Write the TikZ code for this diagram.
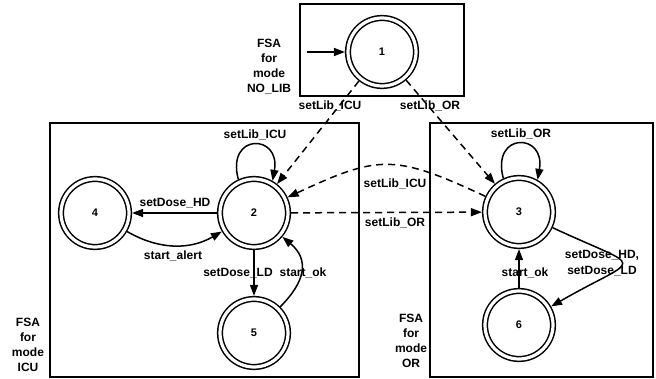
\documentclass[tikz,border=0pt]{standalone}
\usepackage{fontspec}
\setmainfont{Liberation Sans}
\usetikzlibrary{arrows.meta}

\tikzset{
  state/.style={circle, draw, line width=1.5pt, double, double distance=3.2pt,
    minimum size=68pt, inner sep=0pt, outer sep=3.1pt,
    font=\bfseries\fontsize{11}{13}\selectfont},
  lbl/.style={font=\bfseries\fontsize{12}{14}\selectfont, inner sep=1pt},
  fsa/.style={align=center, font=\bfseries\fontsize{12}{15}\selectfont},
  edge/.style={line width=1.5pt, -{Triangle[length=11pt,width=8pt]}},
  libedge/.style={edge, dash pattern=on 7pt off 5pt},
  frame/.style={line width=1.6pt},
}

\begin{document}
\begin{tikzpicture}[x=1pt, y=1pt]

  \useasboundingbox (0,0) rectangle (656,378);

  % Mode boxes
  \draw[frame] (300,282) rectangle (464,374);
  \draw[frame] (50,1) rectangle (359,255);
  \draw[frame] (430,1) rectangle (653,255);

  \node[fsa] (fsanolib) at (269,311) {FSA\\for\\mode\\NO\_LIB};
  \node[fsa] (fsaicu)   at (28,33)   {FSA\\for\\mode\\ICU};
  \node[fsa] (fsaor)    at (411,37)  {FSA\\for\\mode\\OR};

  % States
  \node[state] (s1) at (382,326) {1};
  \node[state] (s2) at (254,165) {2};
  \node[state] (s4) at (95,165)  {4};
  \node[state] (s5) at (254,45)  {5};
  \node[state] (s3) at (519,166) {3};
  \node[state] (s6) at (519,53)  {6};

  \coordinate (init) at (307,326);
  \draw[edge] (init) -- (s1);

  % Library switches
  \draw[libedge] (s1) -- (s2);
  \draw[libedge] (s1) -- (s3);
  \draw[libedge] (s2) -- (s3);
  \draw[libedge] (s3) to[out=155, in=25, looseness=1.3] (s2);

  \node[lbl] (libicu1) at (330,272) {setLib\_ICU};
  \node[lbl] (libor1)  at (430,272) {setLib\_OR};
  \node[lbl] (libicu2) at (395,194) {setLib\_ICU};
  \node[lbl] (libor2)  at (395,155) {setLib\_OR};

  % Mode ICU
  \draw[edge] (s2.115) to[out=105, in=80, looseness=3.6] (s2.60);
  \draw[edge] (s2) -- (s4);
  \draw[edge] (s4) to[out=-30, in=-150, looseness=1.0] (s2);
  \draw[edge] (s2) -- (s5);
  \draw[edge] (s5) to[out=45, in=-40, looseness=1.3] (s2);

  \node[lbl] (loopicu)  at (255,243) {setLib\_ICU};
  \node[lbl] (dosehd)   at (175,175) {setDose\_HD};
  \node[lbl] (alert)    at (173,122) {start\_alert};
  \node[lbl] (doseld)   at (238,105) {setDose\_LD};
  \node[lbl] (okicu)    at (303,105) {start\_ok};

  % Mode OR
  \draw[edge] (s3.115) to[out=105, in=80, looseness=3.6] (s3.60);
  \draw[edge] (s3) to[out=-25, in=30, looseness=3.4] (s6);
  \draw[edge] (s6) -- (s3);

  \node[lbl] (loopor) at (521,244) {setLib\_OR};
  \node[lbl, align=center, font=\bfseries\fontsize{12}{16}\selectfont]
    (doseboth) at (602,115) {setDose\_HD,\\setDose\_LD};
  \node[lbl] (okor) at (525,105) {start\_ok};

\end{tikzpicture}
\end{document}
